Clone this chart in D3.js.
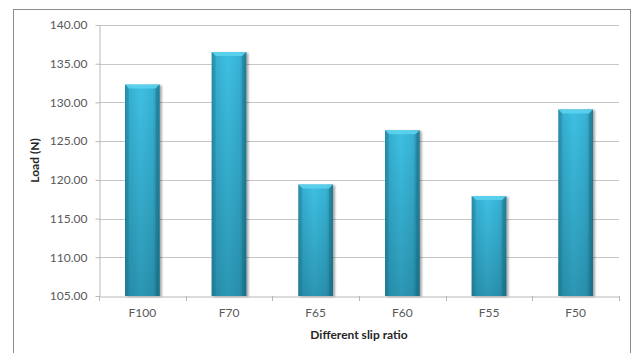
<!DOCTYPE html>
<html>
<head>
<meta charset="utf-8">
<script src="https://cdn.jsdelivr.net/npm/d3@7"></script>
<style>
  html, body { margin: 0; padding: 0; background: #fff; }
  svg { display: block; }
</style>
</head>
<body>
<svg id="chart" width="633" height="353"></svg>
<script>
// Load per slip ratio
const categories = ["F100", "F70", "F65", "F60", "F55", "F50"];
const loads = [132.3, 136.5, 119.4, 126.4, 117.9, 129.1];
const yTicks = [105, 110, 115, 120, 125, 130, 135, 140];
const xTitle = "Different slip ratio";
const yTitle = "Load (N)";

const svg = d3.select("#chart");
const plot = { left: 99, right: 619, top: 25, bottom: 296 };
const fontFamily = "Lato, 'Open Sans', sans-serif";

// Outer chart frame
svg.append("rect")
  .attr("x", 13.5).attr("y", 9.5)
  .attr("width", 617).attr("height", 360)
  .attr("fill", "#fff").attr("stroke", "#8c8c8c").attr("stroke-width", 1);

const x = d3.scaleBand()
  .domain(categories)
  .range([plot.left, plot.right])
  .paddingInner(0.6)
  .paddingOuter(0.3);

const y = d3.scaleLinear()
  .domain([105, 140])
  .range([plot.bottom, plot.top]);

const defs = svg.append("defs");

// Horizontal shading: darker sides, bright middle
const gH = defs.append("linearGradient").attr("id", "barH")
  .attr("x1", "0").attr("x2", "1").attr("y1", "0").attr("y2", "0");
[["0%", "#2a8fab"], ["12%", "#36afd1"], ["45%", "#3ec0e3"], ["80%", "#38b3d5"], ["100%", "#2786a0"]]
  .forEach(([o, c]) => gH.append("stop").attr("offset", o).attr("stop-color", c));

// Vertical darkening towards the base
const gV = defs.append("linearGradient").attr("id", "barV")
  .attr("x1", "0").attr("x2", "0").attr("y1", "0").attr("y2", "1");
gV.append("stop").attr("offset", "0%").attr("stop-color", "#0b4a5c").attr("stop-opacity", 0);
gV.append("stop").attr("offset", "100%").attr("stop-color", "#0b4a5c").attr("stop-opacity", 0.35);

const shadow = defs.append("filter").attr("id", "shadow")
  .attr("x", "-20%").attr("y", "-5%").attr("width", "150%").attr("height", "115%");
shadow.append("feGaussianBlur").attr("in", "SourceAlpha").attr("stdDeviation", 1.2).attr("result", "b");
shadow.append("feOffset").attr("in", "b").attr("dx", 1.5).attr("dy", 1).attr("result", "o");
shadow.append("feComponentTransfer").attr("in", "o").attr("result", "s")
  .append("feFuncA").attr("type", "linear").attr("slope", 0.35);
const merge = shadow.append("feMerge");
merge.append("feMergeNode").attr("in", "s");
merge.append("feMergeNode").attr("in", "SourceGraphic");

// Gridlines
svg.append("g")
  .selectAll("line")
  .data(yTicks.filter(t => t !== 105))
  .join("line")
  .attr("x1", plot.left).attr("x2", plot.right)
  .attr("y1", d => Math.round(y(d)) + 0.5).attr("y2", d => Math.round(y(d)) + 0.5)
  .attr("stroke", "#c6c6c6").attr("stroke-width", 1);

// Y axis
const yAxis = svg.append("g")
  .attr("transform", `translate(${plot.left + 0.5},0)`)
  .call(d3.axisLeft(y).tickValues(yTicks).tickFormat(d3.format(".2f")).tickSizeInner(4).tickSizeOuter(0).tickPadding(8));
yAxis.select(".domain").attr("stroke", "#b8b8b8");
yAxis.selectAll(".tick line").attr("stroke", "#b8b8b8");
yAxis.selectAll(".tick text")
  .attr("fill", "#595959")
  .style("font-family", fontFamily)
  .style("font-size", "12px");

// Bars
const bars = svg.append("g").selectAll("g.bar")
  .data(categories.map((c, i) => ({ c, v: loads[i] })))
  .join("g").attr("class", "bar")
  .attr("filter", "url(#shadow)");

bars.append("rect")
  .attr("x", d => x(d.c)).attr("width", x.bandwidth())
  .attr("y", d => y(d.v)).attr("height", d => y(105) - y(d.v))
  .attr("fill", "url(#barH)");
bars.append("rect")
  .attr("x", d => x(d.c)).attr("width", x.bandwidth())
  .attr("y", d => y(d.v)).attr("height", d => y(105) - y(d.v))
  .attr("fill", "url(#barV)");
// Bevelled top edge
bars.append("path")
  .attr("d", d => {
    const x0 = x(d.c), x1 = x0 + x.bandwidth(), t = y(d.v), b = 4;
    return `M${x0},${t}L${x1},${t}L${x1 - b},${t + b}L${x0 + b},${t + b}Z`;
  })
  .attr("fill", "#5fd3ef").attr("opacity", 0.85);
bars.append("path")
  .attr("d", d => {
    const x0 = x(d.c), t = y(d.v), b = 4;
    return `M${x0},${t}L${x0 + b},${t + b}L${x0 + b},${y(105)}L${x0},${y(105)}Z`;
  })
  .attr("fill", "#1f7690").attr("opacity", 0.25);
bars.append("path")
  .attr("d", d => {
    const x1 = x(d.c) + x.bandwidth(), t = y(d.v), b = 4;
    return `M${x1},${t}L${x1 - b},${t + b}L${x1 - b},${y(105)}L${x1},${y(105)}Z`;
  })
  .attr("fill", "#1a6a82").attr("opacity", 0.35);

// X axis
const xAxis = svg.append("g")
  .attr("transform", `translate(0,${plot.bottom + 0.5})`)
  .call(d3.axisBottom(x).tickSize(0).tickPadding(12));
xAxis.select(".domain").attr("stroke", "#b8b8b8");
xAxis.selectAll(".tick text")
  .attr("fill", "#595959")
  .style("font-family", fontFamily)
  .style("font-size", "12px");
// Category separators on the x axis
const step = x.step();
svg.append("g").selectAll("line")
  .data(d3.range(categories.length + 1))
  .join("line")
  .attr("x1", i => Math.round(plot.left + i * step) + 0.5)
  .attr("x2", i => Math.round(plot.left + i * step) + 0.5)
  .attr("y1", plot.bottom).attr("y2", plot.bottom + 5)
  .attr("stroke", "#b8b8b8");

// Axis titles
svg.append("text")
  .attr("x", (plot.left + plot.right) / 2).attr("y", 339)
  .attr("text-anchor", "middle")
  .attr("fill", "#262626")
  .style("font-family", fontFamily)
  .style("font-weight", "bold").style("font-size", "12px")
  .text(xTitle);

svg.append("text")
  .attr("transform", `translate(39,${(plot.top + plot.bottom) / 2}) rotate(-90)`)
  .attr("text-anchor", "middle")
  .attr("fill", "#262626")
  .style("font-family", fontFamily)
  .style("font-weight", "bold").style("font-size", "12px")
  .text(yTitle);
</script>
</body>
</html>
